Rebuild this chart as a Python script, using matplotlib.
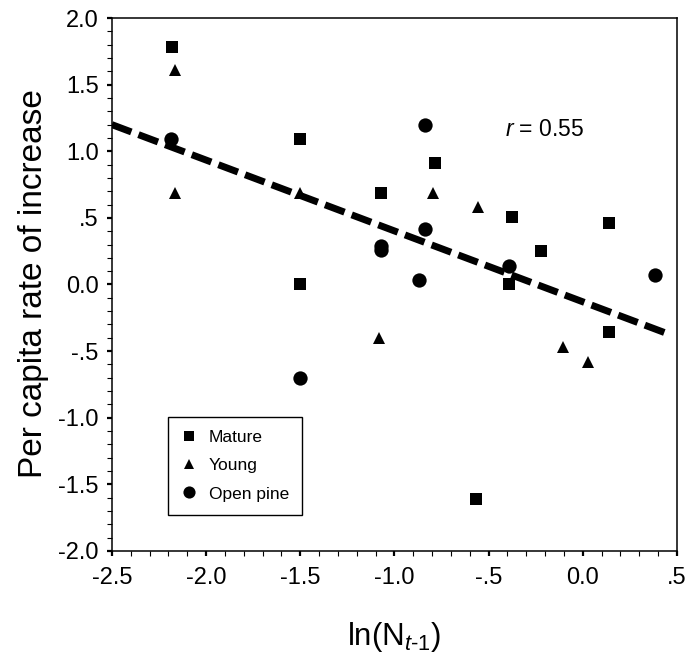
import matplotlib
matplotlib.use('Agg')
import matplotlib.pyplot as plt
from matplotlib.ticker import MultipleLocator, FixedLocator

plt.rcParams['font.family'] = ['Liberation Sans', 'DejaVu Sans']
plt.rcParams['mathtext.fontset'] = 'custom'
plt.rcParams['mathtext.rm'] = 'Liberation Sans'
plt.rcParams['mathtext.it'] = 'Liberation Sans:italic'

# Mature forest (squares)
mature_x = [-2.18, -1.50, -1.50, -1.07, -0.785, -0.376, -0.22, 0.14, -0.39, 0.14, -0.567]
mature_y = [1.78, 1.09, 0.0, 0.69, 0.91, 0.51, 0.25, 0.46, 0.0, -0.36, -1.61]

# Young forest (triangles)
young_x = [-2.165, -2.165, -1.50, -1.08, -0.795, -0.556, -0.105, 0.028]
young_y = [1.61, 0.69, 0.69, -0.40, 0.69, 0.58, -0.47, -0.58]

# Open pine (circles)
pine_x = [-2.187, -1.07, -1.07, -0.838, -0.838, -0.87, -0.39, 0.384, -1.50]
pine_y = [1.09, 0.29, 0.26, 1.20, 0.42, 0.03, 0.14, 0.07, -0.70]

# regression line end points
fit_x = [-2.5, 0.47]
fit_y = [1.20, -0.38]

x_ticks = [-2.5, -2.0, -1.5, -1.0, -0.5, 0.0, 0.5]
x_labels = ['-2.5', '-2.0', '-1.5', '-1.0', '-.5', '0.0', '.5']
y_ticks = [2.0, 1.5, 1.0, 0.5, 0.0, -0.5, -1.0, -1.5, -2.0]
y_labels = ['2.0', '1.5', '1.0', '.5', '0.0', '-.5', '-1.0', '-1.5', '-2.0']

fig = plt.figure(figsize=(6.99, 6.6), dpi=100)
ax = fig.add_axes([0.160, 0.1652, 0.8085, 0.8075])

ax.plot(fit_x, fit_y, color='black', linewidth=5.0, linestyle=(0, (3.0, 1.1)),
        dash_capstyle='butt', zorder=2)

ax.plot(mature_x, mature_y, linestyle='none', marker='s', markersize=8,
        color='black', markeredgewidth=0, label='Mature', zorder=3)
ax.plot(young_x, young_y, linestyle='none', marker='^', markersize=8.3,
        color='black', markeredgewidth=0, label='Young', zorder=3)
ax.plot(pine_x, pine_y, linestyle='none', marker='o', markersize=10.3,
        color='black', markeredgewidth=0, label='Open pine', zorder=3)

ax.set_xlim(-2.5, 0.5)
ax.set_ylim(-2.0, 2.0)

ax.xaxis.set_major_locator(FixedLocator(x_ticks))
ax.set_xticklabels(x_labels)
ax.yaxis.set_major_locator(FixedLocator(y_ticks))
ax.set_yticklabels(y_labels)
ax.xaxis.set_minor_locator(MultipleLocator(0.1))
ax.yaxis.set_minor_locator(MultipleLocator(0.1))

ax.tick_params(which='major', direction='out', length=3.5, width=1.6,
               labelsize=17, pad=6)
ax.tick_params(which='minor', direction='out', length=3.5, width=0.8)
ax.tick_params(axis='x', which='major', pad=8)

for s in ax.spines.values():
    s.set_linewidth(1.1)

ax.set_ylabel('Per capita rate of increase', fontsize=24)
ax.yaxis.set_label_coords(-0.112, 0.502)
ax.set_xlabel(r'ln(N$_{t\text{-}1}$)', fontsize=22.5)
ax.xaxis.set_label_coords(0.5, -0.13)

ax.text(-0.413, 1.16, r'$\it{r}$ = 0.55', fontsize=16.5, va='center', ha='left')

leg = ax.legend(loc='upper left', bbox_to_anchor=(0.099, 0.2514), borderaxespad=0,
                fancybox=False, framealpha=1, edgecolor='black', fontsize=12.5,
                markerscale=0.85, handlelength=1.0, handletextpad=0.6,
                borderpad=0.75, labelspacing=0.75)
leg.get_frame().set_linewidth(1.0)

fig.savefig('out.png', dpi=100)
